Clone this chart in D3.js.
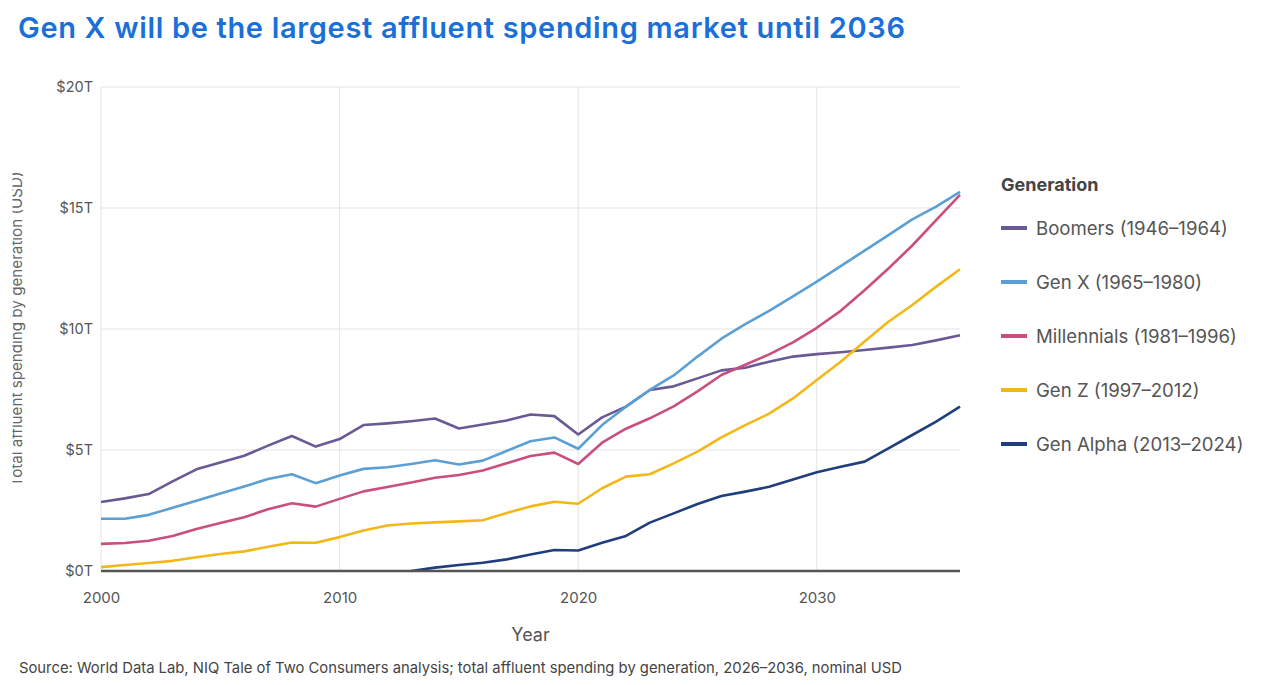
<!DOCTYPE html>
<html>
<head>
    <meta charset="utf-8">
    <title>Affluent spending by generation</title>
    <style>
        html,
        body {
            margin: 0;
            padding: 0;
            background-color: white;
            font-family: 'Inter', 'Noto Sans', sans-serif;
        }

        #chart {
            width: 1261px;
            height: 685px;
        }
    </style>
</head>
<body>
    <div id="chart"></div>
    <script src="https://cdnjs.cloudflare.com/ajax/libs/d3/7.8.5/d3.min.js"></script>
    <script>
        // values, trillions of USD
        const years = d3.range(2000, 2037);

        const boomers = [2.85, 3.0, 3.18, 3.7, 4.2, 4.48, 4.76, 5.18, 5.58, 5.14,
            5.45, 6.03, 6.1, 6.19, 6.3, 5.89, 6.05, 6.22, 6.47, 6.4,
            5.64, 6.35, 6.79, 7.48, 7.63, 7.96, 8.29, 8.4, 8.65, 8.86,
            8.96, 9.04, 9.13, 9.23, 9.34, 9.53, 9.74];

        const genX = [2.16, 2.16, 2.32, 2.61, 2.9, 3.2, 3.49, 3.8, 4.0, 3.63,
            3.95, 4.22, 4.29, 4.42, 4.58, 4.4, 4.56, 4.96, 5.36, 5.52,
            5.05, 6.03, 6.79, 7.48, 8.08, 8.86, 9.6, 10.2, 10.75, 11.35,
            11.96, 12.6, 13.24, 13.88, 14.53, 15.06, 15.67];

        const millennials = [1.12, 1.16, 1.25, 1.45, 1.74, 1.98, 2.22, 2.55, 2.8, 2.66,
            2.98, 3.29, 3.47, 3.66, 3.85, 3.97, 4.15, 4.45, 4.75, 4.89,
            4.42, 5.3, 5.88, 6.31, 6.8, 7.42, 8.1, 8.52, 8.95, 9.45,
            10.05, 10.75, 11.6, 12.5, 13.45, 14.5, 15.54];

        const genZ = [0.16, 0.25, 0.33, 0.42, 0.57, 0.7, 0.81, 1.0, 1.18, 1.17,
            1.4, 1.67, 1.88, 1.96, 2.01, 2.05, 2.1, 2.4, 2.67, 2.86,
            2.78, 3.42, 3.9, 4.0, 4.45, 4.93, 5.52, 6.03, 6.5, 7.13,
            7.89, 8.65, 9.48, 10.3, 10.99, 11.75, 12.47];

        const genAlpha = [null, null, null, null, null, null, null, null, null, null,
            null, null, null, 0, 0.14, 0.25, 0.34, 0.48, 0.68, 0.87,
            0.85, 1.17, 1.45, 2.0, 2.38, 2.77, 3.1, 3.28, 3.48, 3.78,
            4.08, 4.31, 4.52, 5.07, 5.62, 6.17, 6.79];

        const seriesNames = ["Boomers (1946–1964)", "Gen X (1965–1980)", "Millennials (1981–1996)",
            "Gen Z (1997–2012)", "Gen Alpha (2013–2024)"];
        const seriesColors = ["#6a5a93", "#5b9fd5", "#c94f7e", "#f3b817", "#213e7c"];

        const yTicks = [0, 5, 10, 15, 20];
        const yTickLabels = ["$0T", "$5T", "$10T", "$15T", "$20T"];
        const xTicks = [2000, 2010, 2020, 2030];

        const series = [boomers, genX, millennials, genZ, genAlpha].map((values, i) => ({
            name: seriesNames[i],
            color: seriesColors[i],
            points: years.map((year, j) => ({ year, value: values[j] }))
        }));

        const width = 1261;
        const height = 685;
        const margin = { top: 87, right: 301, bottom: 114, left: 101 };

        const svg = d3.select("#chart")
            .append("svg")
            .attr("width", width)
            .attr("height", height);

        const x = d3.scaleLinear()
            .domain([2000, 2036])
            .range([margin.left, width - margin.right]);

        const y = d3.scaleLinear()
            .domain([0, 20])
            .range([height - margin.bottom, margin.top]);

        // title
        svg.append("text")
            .attr("x", 18)
            .attr("y", 38)
            .attr("fill", "#1a6fd9")
            .attr("font-size", "29px")
            .attr("font-weight", 600)
            .attr("textLength", 887)
            .attr("lengthAdjust", "spacing")
            .text("Gen X will be the largest affluent spending market until 2036");

        // grid
        svg.append("g")
            .selectAll("line")
            .data(yTicks)
            .enter()
            .append("line")
            .attr("x1", x(2000))
            .attr("x2", x(2036))
            .attr("y1", d => y(d))
            .attr("y2", d => y(d))
            .attr("stroke", "#e3e3e3")
            .attr("stroke-width", 1);

        svg.append("g")
            .selectAll("line")
            .data(xTicks)
            .enter()
            .append("line")
            .attr("x1", d => x(d))
            .attr("x2", d => x(d))
            .attr("y1", y(0))
            .attr("y2", y(20))
            .attr("stroke", "#e3e3e3")
            .attr("stroke-width", 1);

        // axes
        const yAxis = svg.append("g")
            .attr("transform", `translate(${margin.left},0)`)
            .call(d3.axisLeft(y).tickValues(yTicks).tickSize(0).tickPadding(8)
                .tickFormat((d, i) => yTickLabels[i]));

        const xAxis = svg.append("g")
            .attr("transform", `translate(0,${y(0)})`)
            .call(d3.axisBottom(x).tickValues(xTicks).tickSize(0).tickPadding(21)
                .tickFormat(d3.format("d")));

        [yAxis, xAxis].forEach(axis => {
            axis.select(".domain").remove();
            axis.selectAll("text")
                .attr("fill", "#555")
                .attr("font-size", "14.5px")
                .attr("font-family", "Inter, 'Noto Sans', sans-serif");
        });
        xAxis.selectAll("text").attr("font-size", "15px");

        // lines
        const line = d3.line()
            .defined(d => d.value !== null)
            .x(d => x(d.year))
            .y(d => y(d.value));

        svg.append("g")
            .selectAll("path")
            .data(series)
            .enter()
            .append("path")
            .attr("d", d => line(d.points))
            .attr("fill", "none")
            .attr("stroke", d => d.color)
            .attr("stroke-width", 2.6)
            .attr("stroke-linejoin", "round");

        // baseline
        svg.append("line")
            .attr("x1", x(2000))
            .attr("x2", x(2036))
            .attr("y1", y(0))
            .attr("y2", y(0))
            .attr("stroke", "#555")
            .attr("stroke-width", 2.5);

        // axis titles
        svg.append("text")
            .attr("x", (x(2000) + x(2036)) / 2)
            .attr("y", 641)
            .attr("text-anchor", "middle")
            .attr("fill", "#555")
            .attr("font-size", "18px")
            .text("Year");

        // the y title is cut at the left edge in the source picture
        svg.append("clipPath")
            .attr("id", "ytitle-clip")
            .append("rect")
            .attr("x", 12.5)
            .attr("y", 0)
            .attr("width", 40)
            .attr("height", height);

        svg.append("g")
            .attr("clip-path", "url(#ytitle-clip)")
            .append("text")
            .attr("transform", `translate(21.5,${(y(0) + y(20)) / 2}) rotate(-90)`)
            .attr("text-anchor", "middle")
            .attr("fill", "#666")
            .attr("font-size", "15.2px")
            .text("Total affluent spending by generation (USD)");

        // legend
        const legend = svg.append("g")
            .attr("transform", "translate(1001,0)");

        legend.append("text")
            .attr("x", 0)
            .attr("y", 191)
            .attr("fill", "#444")
            .attr("font-size", "18px")
            .attr("font-weight", 700)
            .text("Generation");

        const items = legend.selectAll(".legend-item")
            .data(series)
            .enter()
            .append("g")
            .attr("class", "legend-item")
            .attr("transform", (d, i) => `translate(0,${228 + i * 54})`);

        items.append("line")
            .attr("x1", 0)
            .attr("x2", 26)
            .attr("stroke", d => d.color)
            .attr("stroke-width", 4);

        items.append("text")
            .attr("x", 35)
            .attr("y", 6.5)
            .attr("fill", "#555")
            .attr("font-size", "18.6px")
            .text(d => d.name);

        // source note
        svg.append("text")
            .attr("x", 19)
            .attr("y", 673)
            .attr("fill", "#444")
            .attr("font-size", "14.8px")
            .text("Source: World Data Lab, NIQ Tale of Two Consumers analysis; total affluent spending by generation, 2026–2036, nominal USD");
    </script>
</body>
</html>
